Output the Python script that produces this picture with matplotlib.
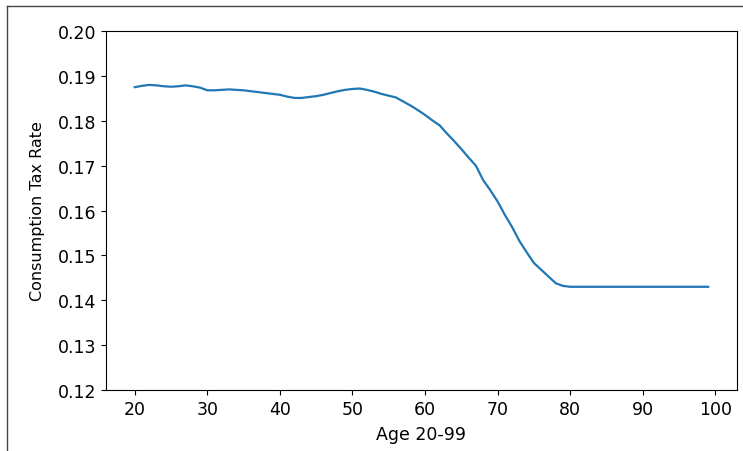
import matplotlib
matplotlib.use("Agg")
import matplotlib.pyplot as plt
from matplotlib.lines import Line2D

ages = list(range(20, 100))
tax_rate = [
    0.1875, 0.1878, 0.1880, 0.1879, 0.1877, 0.1876, 0.1877, 0.1879, 0.1877, 0.1874,
    0.1868, 0.1868, 0.1869, 0.1870, 0.1869, 0.1868, 0.1866, 0.1864, 0.1862, 0.1860,
    0.1858, 0.1854, 0.1851, 0.1851, 0.1853, 0.1855, 0.1858, 0.1862, 0.1866, 0.1869,
    0.1871, 0.1872, 0.1869, 0.1865, 0.1860, 0.1856, 0.1852, 0.1843, 0.1834, 0.1824,
    0.1813, 0.1801, 0.1790, 0.1772, 0.1755, 0.1737, 0.1718, 0.1700, 0.1668, 0.1645,
    0.1620, 0.1590, 0.1563, 0.1532, 0.1507, 0.1483, 0.1468, 0.1453, 0.1438, 0.1432,
    0.1430, 0.1430, 0.1430, 0.1430, 0.1430, 0.1430, 0.1430, 0.1430, 0.1430, 0.1430,
    0.1430, 0.1430, 0.1430, 0.1430, 0.1430, 0.1430, 0.1430, 0.1430, 0.1430, 0.1430,
]
y_ticks = [0.12, 0.13, 0.14, 0.15, 0.16, 0.17, 0.18, 0.19, 0.20]
x_ticks = [20, 30, 40, 50, 60, 70, 80, 90, 100]

plt.rcParams['font.size'] = 12.5
fig = plt.figure(figsize=(7.43, 4.52), dpi=100)
ax = fig.add_axes([0.1427, 0.135, 0.849, 0.794])
ax.plot(ages, tax_rate, color='#1f77b4', linewidth=1.6)
ax.set_ylim(0.12, 0.20)
ax.set_yticks(y_ticks)
ax.set_yticklabels([f"{v:.2f}" for v in y_ticks])
ax.set_xticks(x_ticks)
ax.set_xlabel("Age 20-99", labelpad=5)
ax.set_ylabel("Consumption Tax Rate", fontsize=11.5, labelpad=9)

fig.add_artist(Line2D([7/743, 7/743], [0, 1 - 7/452], transform=fig.transFigure, color='#444444', linewidth=1))
fig.add_artist(Line2D([7/743, 1], [1 - 7/452, 1 - 7/452], transform=fig.transFigure, color='#444444', linewidth=1))

fig.savefig("out.png", dpi=100)
